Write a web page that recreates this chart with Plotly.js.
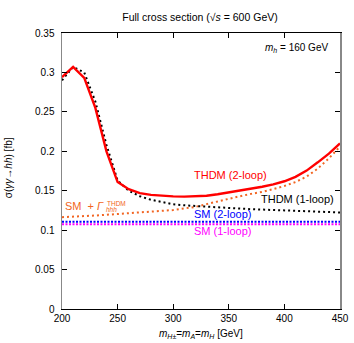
<!DOCTYPE html>
<html>
<head>
<meta charset="utf-8">
<script src="https://cdn.plot.ly/plotly-3.0.1.min.js"></script>
<style>html,body{margin:0;padding:0;background:#fff;}#chart{width:354px;height:343px;}</style>
</head>
<body>
<div id="chart"></div>
<script>
// masses m_H± = m_A = m_H [GeV]
var masses = [200,210,220,230,240,250,260,270,280,290,300,310,320,330,340,350,360,370,380,390,400,410,420,430,440,450];
var thdm2loop = [0.294,0.307,0.293,0.255,0.200,0.161,0.152,0.147,0.1447,0.1435,0.1428,0.1425,0.1428,0.1437,0.1455,0.1478,0.150,0.1525,0.155,0.158,0.162,0.1675,0.1755,0.186,0.197,0.210];
var thdm1loop = [0.290,0.307,0.300,0.263,0.208,0.163,0.150,0.143,0.1385,0.1355,0.1328,0.1315,0.1305,0.1295,0.1287,0.128,0.1273,0.1266,0.126,0.1254,0.1248,0.1243,0.1238,0.1233,0.1228,0.1224];
var smGamma = [0.1165,0.117,0.1177,0.1185,0.1195,0.1205,0.121,0.1218,0.1228,0.124,0.1255,0.1275,0.1295,0.133,0.1365,0.140,0.143,0.146,0.1485,0.152,0.156,0.161,0.168,0.178,0.191,0.206];
var sm2loop = [0.1107,0.1107,0.1107,0.1107,0.1107,0.1107,0.1107,0.1107,0.1107,0.1107,0.1107,0.1107,0.1107,0.1107,0.1107,0.1107,0.1107,0.1107,0.1107,0.1107,0.1107,0.1107,0.1107,0.1107,0.1107,0.1107];
var sm1loop = [0.1076,0.1076,0.1076,0.1076,0.1076,0.1076,0.1076,0.1076,0.1076,0.1076,0.1076,0.1076,0.1076,0.1076,0.1076,0.1076,0.1076,0.1076,0.1076,0.1076,0.1076,0.1076,0.1076,0.1076,0.1076,0.1076];
var xTicks = [200,250,300,350,400,450];
var yTicks = [0,0.05,0.1,0.15,0.2,0.25,0.3,0.35];
var yTickText = ['0','0.05','0.1','0.15','0.2','0.25','0.3','0.35'];

var FONT = 'Liberation Sans, Arial, sans-serif';
var ORANGE = '#f26522';
var traces = [
  {x: masses, y: sm1loop, mode:'lines', line:{color:'#ff00ff', width:2, dash:'2px,1.5px'}},
  {x: masses, y: sm2loop, mode:'lines', line:{color:'#0000ff', width:2, dash:'2px,1.5px'}},
  {x: masses, y: smGamma, mode:'lines', line:{color:ORANGE, width:2, dash:'2px,3px'}},
  {x: masses, y: thdm1loop, mode:'lines', line:{color:'#000000', width:2, dash:'2px,3px'}},
  {x: masses, y: thdm2loop, mode:'lines', line:{color:'#ff0000', width:2.4}}
];

var layout = {
  width: 354, height: 343,
  margin: {l: 62, r: 14, t: 33, b: 34},
  paper_bgcolor: '#fff', plot_bgcolor: '#fff',
  showlegend: false,
  font: {family: FONT, size: 10, color: '#000'},
  title: {text: 'Full cross section (√<i>s</i> = 600 GeV)', font:{family: FONT, size: 10.5, color:'#000'}, x: 0.565, xanchor:'center', y: 0.95, yanchor:'middle'},
  xaxis: {range:[200,450], tickvals: xTicks, ticks:'inside', ticklen:5, tickcolor:'#000', showgrid:false, zeroline:false,
          showline:true, linecolor:'#000', linewidth:1, mirror:'ticks', tickfont:{size:10}},
  yaxis: {range:[0,0.35], tickvals: yTicks, ticktext: yTickText, ticks:'inside', ticklen:5, tickcolor:'#000', showgrid:false, zeroline:false,
          showline:true, linecolor:'#888', linewidth:1.5, mirror:'ticks', tickfont:{size:10}, ticklabelstandoff: 4},
  annotations: [
    {xref:'paper', yref:'paper', x:0.964, y:0.946, xanchor:'right', yanchor:'middle', showarrow:false,
     text:'<i>m</i><sub><i>h</i></sub> = 160 GeV', font:{size:10}},
    {x:351.5, y:0.170, xanchor:'center', yanchor:'middle', showarrow:false, text:'THDM (2-loop)', font:{size:11, color:'#ff0000'}},
    {x:412, y:0.1395, xanchor:'center', yanchor:'middle', showarrow:false, text:'THDM (1-loop)', font:{size:11, color:'#000'}},
    {x:344.6, y:0.1205, xanchor:'center', yanchor:'middle', showarrow:false, text:'SM (2-loop)', font:{size:11, color:'#0000ff'}},
    {x:344.6, y:0.099, xanchor:'center', yanchor:'middle', showarrow:false, text:'SM (1-loop)', font:{size:11, color:'#ff00ff'}},
    {x:200.5, y:0.1306, xanchor:'left', yanchor:'middle', showarrow:false, text:'SM&nbsp;&nbsp;+&nbsp;<i>Γ</i>', font:{size:11, color:ORANGE}},
    {x:238.7, y:0.1344, xanchor:'left', yanchor:'middle', showarrow:false, text:'THDM', font:{size:6.5, color:ORANGE}},
    {x:237.8, y:0.1262, xanchor:'left', yanchor:'middle', showarrow:false, text:'<i>hhh</i>', font:{size:6.5, color:ORANGE}},
    {xref:'paper', yref:'paper', x:-0.19, y:0.511, xanchor:'center', yanchor:'middle', showarrow:false, textangle:-90,
     text:'σ(<i>γγ</i>→<i>hh</i>) [fb]', font:{size:10}},
    {xref:'paper', yref:'paper', x:0.5, y:-0.09, xanchor:'center', yanchor:'middle', showarrow:false,
     text:'<i>m</i><sub><i>H</i>±</sub>=<i>m</i><sub><i>A</i></sub>=<i>m</i><sub><i>H</i></sub> [GeV]', font:{size:10}}
  ]
};
Plotly.newPlot('chart', traces, layout, {displayModeBar:false, staticPlot:true});
</script>
</body>
</html>
